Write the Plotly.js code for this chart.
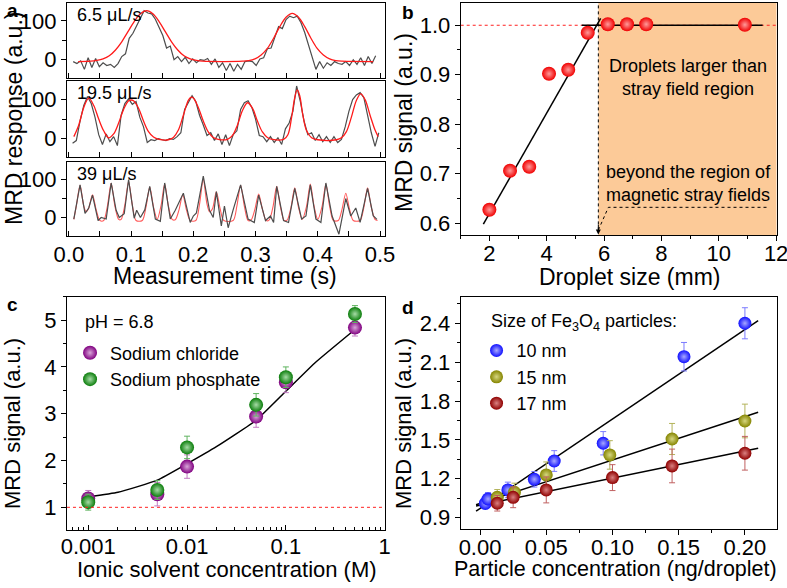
<!DOCTYPE html>
<html>
<head>
<meta charset="utf-8">
<script src="https://cdn.plot.ly/plotly-3.0.1.min.js"></script>
<style>
  body { margin: 0; background: #fff; }
  #chart { width: 787px; height: 588px; }
</style>
</head>
<body>
<div id="chart"></div>
<script>
// ---- panel a: MRD response traces (time in s) ----
var a1Gray = [-5, -10, -3, -25, 5, -20, 3, -18, -8, -15, -12, -20, -10, 8, 15, 55, 68, 88, 108, 126,
  120, 118, 104, 85, 62, 30, 35, 0, 8, -5, 6, -10, 2, -8, 0, -2, 3, -12, 2, -20,
  -8, -28, -10, -30, -12, -25, -5, -3, -5, -15, 2, 5, 28, 30, 60, 85, 80, 103, 112, 108,
  112, 95, 70, 38, 5, -25, -5, -22, -8, -15, -5, -10, -12, -5, -15, 0, -12, 5, -15, 8,
  -10, 10];
var a1FitX = [0.015, 0.035, 0.045, 0.055, 0.065, 0.075, 0.085, 0.095, 0.105, 0.115, 0.125, 0.135, 0.145,
  0.155, 0.165, 0.175, 0.185, 0.195, 0.205, 0.215, 0.25, 0.279, 0.289, 0.299, 0.309, 0.319, 0.329,
  0.339, 0.349, 0.359, 0.369, 0.379, 0.389, 0.399, 0.409, 0.419, 0.429, 0.439, 0.489];
var a1FitY = [-5, -4, -2, 2, 10, 25, 46, 72, 98, 118, 126, 118, 98,
  72, 46, 25, 10, 2, -2, -4, -5, -4, -2.5, 2, 12, 29, 55,
  85, 109, 119, 109, 85, 55, 29, 12, 2, -2.5, -4, -5];

var a2Gray = [-12, -5, 45, 85, 108, 90, 55, 10, -15, 12, -8, 5, -18, 60, 90, 102, 88, 95, 55, 30,
  -10, -3, -5, 0, -3, -5, 0, -2, 5, 15, 75, 92, 110, 95, 60, 35, 8, 15, -5, 12,
  -15, 10, -18, 10, 20, 75, 92, 97, 80, 50, 8, 5, -8, 5, -10, 2, -15, 25, 40, 70,
  135, 95, 45, 10, 15, -5, 10, -8, 5, -10, 5, -10, -2, 30, 70, 100, 112, 118, 105, 60,
  15, -20, 15];
var a2FitX = [0.008, 0.016, 0.024, 0.032, 0.040, 0.048, 0.056, 0.064, 0.072, 0.080, 0.088, 0.096, 0.100,
  0.104, 0.112, 0.120, 0.128, 0.136, 0.145, 0.160, 0.168, 0.176, 0.184, 0.192, 0.196, 0.200,
  0.208, 0.216, 0.224, 0.232, 0.240, 0.255, 0.263, 0.271, 0.279, 0.287, 0.295, 0.303, 0.311,
  0.319, 0.327, 0.345, 0.352, 0.358, 0.363, 0.367, 0.371, 0.376, 0.382, 0.390, 0.400, 0.430,
  0.438, 0.446, 0.454, 0.462, 0.469, 0.476, 0.484, 0.492, 0.497];
var a2FitY = [5, 35, 80, 104, 85, 50, 20, 2, 12, 40, 75, 97, 99,
  97, 78, 45, 18, 4, -2, -3, 3, 22, 60, 98, 106, 104,
  80, 45, 17, 3, -2, -2, 8, 35, 72, 92, 78, 45, 17,
  3, -2, -2, 10, 55, 105, 125, 110, 60, 20, 2, -3, -3,
  2, 18, 55, 98, 115, 100, 60, 22, 5];

var a3GrayX = [0.008, 0.018, 0.026, 0.032, 0.038, 0.047, 0.052, 0.060, 0.068, 0.076, 0.081, 0.089, 0.096,
  0.105, 0.109, 0.115, 0.122, 0.130, 0.139, 0.147, 0.154, 0.163, 0.171, 0.177, 0.184, 0.195,
  0.200, 0.205, 0.216, 0.226, 0.232, 0.237, 0.245, 0.250, 0.256, 0.264, 0.276, 0.288, 0.298,
  0.305, 0.316, 0.324, 0.329, 0.334, 0.345, 0.353, 0.363, 0.374, 0.381, 0.388, 0.397, 0.405,
  0.413, 0.423, 0.434, 0.445, 0.453, 0.461, 0.468, 0.480, 0.489, 0.495];
var a3GrayY = [-4, 86, 11, 25, 59, -8, 0, -4, 91, 19, 0, 10, 100,
  -2, 19, 0, 20, 82, -4, -10, 91, -4, 19, 40, 64, -13,
  4, 12, 109, 19, 0, 68, -22, 30, -27, 20, 86, -4, -13,
  59, -8, 4, -13, 82, -8, -13, 77, -4, 4, 86, -4, -13,
  91, 4, -44, 50, 4, 25, -13, 77, 5, -5];
var a3FitX = [0.008, 0.012, 0.018, 0.024, 0.028, 0.032, 0.038, 0.044, 0.050, 0.056,
  0.062, 0.068, 0.074, 0.080, 0.084, 0.090, 0.096, 0.102, 0.108, 0.118,
  0.124, 0.130, 0.136, 0.142, 0.148, 0.154, 0.160, 0.166, 0.171, 0.177,
  0.183, 0.189, 0.195, 0.204, 0.210, 0.216, 0.222, 0.226, 0.231, 0.237,
  0.243, 0.249, 0.264, 0.270, 0.276, 0.282, 0.288, 0.293, 0.299, 0.305,
  0.311, 0.317, 0.322, 0.328, 0.334, 0.340, 0.346, 0.351, 0.357, 0.363,
  0.369, 0.375, 0.382, 0.388, 0.394, 0.400, 0.407, 0.413, 0.419, 0.425,
  0.433, 0.439, 0.445, 0.451, 0.457, 0.468, 0.474, 0.480, 0.486, 0.492, 0.496];
var a3FitY = [-5, 30, 85, 30, 15, 25, 60, 20, -8, -8,
  30, 90, 30, -5, -5, 33, 95, 33, -8, -8,
  28, 80, 28, -5, 30, 88, 30, -5, -6, 20,
  60, 20, -8, -8, 35, 100, 35, 15, 24, 68,
  24, -8, -8, 30, 85, 30, -8, -6, 22, 62,
  22, -8, -6, 28, 82, 28, -8, -6, 27, 78,
  27, -5, 30, 88, 30, -5, 30, 88, 30, -8,
  -8, 22, 64, 22, -8, -8, 27, 78, 27, -5, -8];

// ---- panel b: droplet size ----
var bSize = [2.0, 2.72, 3.39, 4.08, 4.75, 5.43, 6.13, 6.8, 7.47, 10.91];
var bSignal = [0.627, 0.706, 0.714, 0.902, 0.910, 0.985, 1.002, 1.002, 1.002, 1.001];
var bFitX = [1.79, 5.88];
var bFitY = [0.598, 1.014];
var bFlatX = [5.22, 11.53];
var bFlatY = [1.0, 1.0];

// ---- panel c: ionic solvent ----
var conc = [0.001, 0.005, 0.01, 0.05, 0.1, 0.5];
var nacl = [1.19, 1.28, 1.87, 2.94, 3.67, 4.84];
var naclErr = [0.17, 0.25, 0.25, 0.23, 0.22, 0.18];
var naph = [1.11, 1.37, 2.28, 3.19, 3.78, 5.13];
var naphErr = [0.17, 0.2, 0.24, 0.24, 0.22, 0.18];
var cFitX = [0.001, 0.002, 0.005, 0.01, 0.02, 0.05, 0.1, 0.2, 0.5];
var cFitY = [1.22, 1.32, 1.58, 1.93, 2.3, 2.86, 3.48, 4.1, 4.8];
var cTicks = [0.001, 0.01, 0.1, 1];
var cTickText = ['0.001', '0.01', '0.1', '1'];
var cMinor = [0.0007, 0.0008, 0.0009, 0.002, 0.003, 0.004, 0.005, 0.006, 0.007, 0.008, 0.009,
  0.02, 0.03, 0.04, 0.05, 0.06, 0.07, 0.08, 0.09, 0.2, 0.3, 0.4, 0.5, 0.6, 0.7, 0.8, 0.9];

// ---- panel d: particle concentration ----
var d10x = [0.004, 0.006, 0.021, 0.041, 0.056, 0.093, 0.154, 0.2];
var d10y = [1.01, 1.044, 1.114, 1.196, 1.337, 1.474, 2.142, 2.4];
var d10e = [0.04, 0.05, 0.06, 0.06, 0.08, 0.09, 0.11, 0.12];
var d15x = [0.013, 0.026, 0.05, 0.098, 0.145, 0.2];
var d15y = [1.057, 1.096, 1.23, 1.384, 1.507, 1.646];
var d15e = [0.06, 0.07, 0.1, 0.11, 0.12, 0.13];
var d17x = [0.013, 0.025, 0.05, 0.1, 0.145, 0.2];
var d17y = [1.011, 1.057, 1.114, 1.209, 1.299, 1.397];
var d17e = [0.06, 0.08, 0.1, 0.1, 0.13, 0.13];
var dFitX = [-0.003, 0.21];
var d10Fit = [0.95, 2.42];
var d15Fit = [1.0, 1.713];
var d17Fit = [0.99, 1.435];

var FONT = 'Arial, "Liberation Sans", sans-serif';

function ball(color, center, size) {
  return {color: color, size: size, line: {width: 0},
          gradient: {type: 'radial', color: center}};
}

var gray = {color: '#4d4d4d', width: 1.2};
var data = [
  {y: a1Gray, x0: 0.007, dx: 0.006, xaxis: 'x', yaxis: 'y', mode: 'lines', line: gray, showlegend: false},
  {x: a1FitX, y: a1FitY, xaxis: 'x', yaxis: 'y', mode: 'lines', line: {color: '#ff1a1a', width: 1.3, shape: 'spline'}, showlegend: false},
  {y: a2Gray, x0: 0.006, dx: 0.006, xaxis: 'x2', yaxis: 'y2', mode: 'lines', line: gray, showlegend: false},
  {x: a2FitX, y: a2FitY, xaxis: 'x2', yaxis: 'y2', mode: 'lines', line: {color: '#ff1a1a', width: 1.3, shape: 'spline'}, showlegend: false},
  {x: a3FitX, y: a3FitY, xaxis: 'x3', yaxis: 'y3', mode: 'lines', line: {color: '#ff5a5a', width: 1.1, shape: 'spline', smoothing: 0.8}, showlegend: false},
  {x: a3GrayX, y: a3GrayY, xaxis: 'x3', yaxis: 'y3', mode: 'lines', line: gray, showlegend: false},

  {x: bFitX, y: bFitY, xaxis: 'x4', yaxis: 'y4', mode: 'lines', line: {color: '#000', width: 1.5}, showlegend: false},
  {x: bFlatX, y: bFlatY, xaxis: 'x4', yaxis: 'y4', mode: 'lines', line: {color: '#000', width: 1.5}, showlegend: false},
  {x: bSize, y: bSignal, xaxis: 'x4', yaxis: 'y4', mode: 'markers', marker: ball('#f00000', '#ff9a9a', 14), showlegend: false},

  {x: cFitX, y: cFitY, xaxis: 'x5', yaxis: 'y5', mode: 'lines', line: {color: '#000', width: 1.5, shape: 'spline', smoothing: 0.4}, showlegend: false},
  {x: conc, y: nacl, name: 'Sodium chloride', xaxis: 'x5', yaxis: 'y5', mode: 'markers', legend: 'legend',
   error_y: {type: 'data', array: naclErr, color: '#c27ac2', thickness: 1, width: 3},
   marker: ball('#800080', '#d9a6d9', 14)},
  {x: conc, y: naph, name: 'Sodium phosphate', xaxis: 'x5', yaxis: 'y5', mode: 'markers', legend: 'legend',
   error_y: {type: 'data', array: naphErr, color: '#5fb35f', thickness: 1, width: 3},
   marker: ball('#0a7d0a', '#a6dba6', 14)},

  {x: dFitX, y: d10Fit, xaxis: 'x6', yaxis: 'y6', mode: 'lines', line: {color: '#000', width: 1.5}, showlegend: false},
  {x: dFitX, y: d15Fit, xaxis: 'x6', yaxis: 'y6', mode: 'lines', line: {color: '#000', width: 1.5}, showlegend: false},
  {x: dFitX, y: d17Fit, xaxis: 'x6', yaxis: 'y6', mode: 'lines', line: {color: '#000', width: 1.5}, showlegend: false},
  {x: d10x, y: d10y, name: '10 nm', xaxis: 'x6', yaxis: 'y6', mode: 'markers', legend: 'legend2',
   error_y: {type: 'data', array: d10e, color: '#7b7bff', thickness: 1, width: 3},
   marker: ball('#1010ff', '#a8a8ff', 13)},
  {x: d15x, y: d15y, name: '15 nm', xaxis: 'x6', yaxis: 'y6', mode: 'markers', legend: 'legend2',
   error_y: {type: 'data', array: d15e, color: '#b3b35a', thickness: 1, width: 3},
   marker: ball('#858500', '#d6d680', 13)},
  {x: d17x, y: d17y, name: '17 nm', xaxis: 'x6', yaxis: 'y6', mode: 'markers', legend: 'legend2',
   error_y: {type: 'data', array: d17e, color: '#c06060', thickness: 1, width: 3},
   marker: ball('#8f0000', '#d98080', 13)}
];

function axis(extra) {
  var base = {showline: true, linecolor: '#000', linewidth: 1, mirror: true,
              showgrid: false, zeroline: false, ticks: 'outside', ticklen: 5,
              tickcolor: '#000', tickfont: {family: FONT, size: 22, color: '#000'},
              minor: {ticks: 'outside', ticklen: 3, tickcolor: '#000', showgrid: false}};
  for (var k in extra) base[k] = extra[k];
  return base;
}

var aX = [-0.003, 0.508];
var aY = [-48, 147];
var dxA = [0.0851, 0.4892];
var dxB = [0.5854, 0.9869];

// paper-pixel helper for text placed outside the plot areas
function note(text, px, py, size, extra) {
  var a = {text: text, x: px / 787, y: 1 - py / 588, xref: 'paper', yref: 'paper',
           xanchor: 'center', yanchor: 'middle', showarrow: false, font: {size: size}};
  for (var k in extra) a[k] = extra[k];
  return a;
}

var layout = {
  width: 787, height: 588,
  margin: {l: 0, r: 0, t: 0, b: 0},
  paper_bgcolor: '#fff', plot_bgcolor: 'rgba(0,0,0,0)',
  font: {family: FONT, color: '#000'},
  xaxis: axis({domain: dxA, anchor: 'y', range: aX, dtick: 0.1, tick0: 0, ticks: 'inside', showticklabels: false,
               minor: {ticks: 'inside', ticklen: 5, dtick: 0.05, tickcolor: '#000'}}),
  yaxis: axis({domain: [0.8668, 0.9957], anchor: 'x', range: aY, dtick: 100, tick0: 0,
               minor: {ticks: 'outside', ticklen: 4, dtick: 50, tickcolor: '#000'}}),
  xaxis2: axis({domain: dxA, anchor: 'y2', range: aX, dtick: 0.1, tick0: 0, ticks: 'inside', showticklabels: false,
               minor: {ticks: 'inside', ticklen: 5, dtick: 0.05, tickcolor: '#000'}}),
  yaxis2: axis({domain: [0.7325, 0.8617], anchor: 'x2', range: aY, dtick: 100, tick0: 0,
               minor: {ticks: 'outside', ticklen: 4, dtick: 50, tickcolor: '#000'}}),
  xaxis3: axis({domain: dxA, anchor: 'y3', range: aX, dtick: 0.1, tick0: 0, ticks: 'inside', tickformat: '.1f',
               ticklabelstandoff: -1,
               minor: {ticks: 'inside', ticklen: 5, dtick: 0.05, tickcolor: '#000'}}),
  yaxis3: axis({domain: [0.5991, 0.7250], anchor: 'x3', range: aY, dtick: 100, tick0: 0,
               minor: {ticks: 'outside', ticklen: 4, dtick: 50, tickcolor: '#000'}}),

  xaxis4: axis({domain: dxB, anchor: 'y4', range: [1, 12.02], dtick: 2, tick0: 0, ticklabeloverflow: 'allow',
               ticklabelstandoff: -6,
               minor: {ticks: 'outside', ticklen: 3, dtick: 1, tickcolor: '#000'}}),
  yaxis4: axis({domain: [0.6003, 0.9949], anchor: 'x4', range: [0.576, 1.045], dtick: 0.1, tick0: 0, tickformat: '.1f',
               minor: {ticks: 'outside', ticklen: 3, dtick: 0.05, tickcolor: '#000'}}),

  xaxis5: axis({domain: dxA, anchor: 'y5', type: 'log', range: [-3.215, 0.003], tickmode: 'array',
               tickvals: cTicks, ticktext: cTickText, ticks: 'inside', ticklabelstandoff: -3,
               minor: {ticks: 'inside', ticklen: 3, tickmode: 'array', tickvals: cMinor, tickcolor: '#000'}}),
  yaxis5: axis({domain: [0.0986, 0.4954], anchor: 'x5', range: [0.515, 5.5], dtick: 1, tick0: 0,
               minor: {ticks: 'outside', ticklen: 3, dtick: 0.5, tickcolor: '#000'}}),

  xaxis6: axis({domain: dxB, anchor: 'y6', range: [-0.0146, 0.224], dtick: 0.05, tick0: 0, tickformat: '.2f',
               ticklabelstandoff: -7,
               minor: {ticks: 'outside', ticklen: 3, dtick: 0.025, tickcolor: '#000'}}),
  yaxis6: axis({domain: [0.0998, 0.4954], anchor: 'x6', range: [0.81, 2.605], dtick: 0.3, tick0: 0.9, tickformat: '.1f',
               minor: {ticks: 'outside', ticklen: 3, dtick: 0.15, tickcolor: '#000'}}),

  legend: {x: 0.089, y: 0.431, xanchor: 'left', yanchor: 'top', bgcolor: 'rgba(0,0,0,0)',
           font: {family: FONT, size: 18, color: '#000'}, tracegroupgap: 0},
  legend2: {x: 0.6055, y: 0.435, xanchor: 'left', yanchor: 'top', bgcolor: 'rgba(0,0,0,0)',
           font: {family: FONT, size: 18, color: '#000'}, tracegroupgap: 0},

  shapes: [
    // panel b: region beyond the stray field
    {type: 'rect', xref: 'x4', yref: 'y4 domain', x0: 5.8, x1: 12.02, y0: 0, y1: 1,
     fillcolor: '#fcca98', line: {width: 0}, layer: 'below'},
    {type: 'line', xref: 'x4 domain', yref: 'y4', x0: 0, x1: 1, y0: 1.0, y1: 1.0,
     line: {color: '#ff2020', width: 1, dash: 'dot'}, layer: 'below'},
    {type: 'line', xref: 'x4', yref: 'y4 domain', x0: 5.8, x1: 5.8, y0: 0.02, y1: 1,
     line: {color: '#000', width: 1, dash: 'dot'}},
    {type: 'path', xref: 'x4', yref: 'y4', path: 'M 5.8 0.586 L 6.15 0.632 L 11.72 0.632',
     line: {color: '#000', width: 1, dash: 'dot'}},
    // panel c: low concentration region and reference line
    {type: 'rect', xref: 'x5', yref: 'y5 domain', x0: -3.215, x1: -1.232, y0: 0, y1: 1,
     fillcolor: '#ffff80', line: {width: 0}, layer: 'below'},
    {type: 'line', xref: 'x5 domain', yref: 'y5', x0: 0, x1: 1, y0: 1, y1: 1,
     line: {color: '#ff2020', width: 1, dash: 'dot'}}
  ],

  annotations: [
    note('<b>a</b>', 12, 11, 19),
    note('<b>b</b>', 408, 12, 19),
    note('<b>c</b>', 12, 304, 19),
    note('<b>d</b>', 408, 307, 19),

    note('MRD response (a.u.)', 14, 119, 23, {textangle: -90}),
    note('Measurement time (s)', 225, 276, 23),
    note('MRD signal (a.u.)', 404, 122, 23, {textangle: -90}),
    note('Droplet size (mm)', 629, 277, 23),
    note('MRD signal (a.u.)', 12, 424, 22, {textangle: -90}),
    note('Ionic solvent concentration (M)', 227, 569, 22),
    note('MRD signal (a.u.)', 403, 424, 22, {textangle: -90}),
    note('Particle concentration (ng/droplet)', 615, 569, 21.5),

    {text: '6.5 \u03bcL/s', x: 0.025, y: 1.0, xref: 'x domain', yref: 'y domain', xanchor: 'left', yanchor: 'top', showarrow: false, font: {size: 18}},
    {text: '19.5 \u03bcL/s', x: 0.025, y: 1.0, xref: 'x2 domain', yref: 'y2 domain', xanchor: 'left', yanchor: 'top', showarrow: false, font: {size: 18}},
    {text: '39 \u03bcL/s', x: 0.025, y: 1.0, xref: 'x3 domain', yref: 'y3 domain', xanchor: 'left', yanchor: 'top', showarrow: false, font: {size: 18}},

    {text: 'Droplets larger than<br>stray field region', x: 8.93, y: 0.8935, xref: 'x4', yref: 'y4',
     xanchor: 'center', yanchor: 'middle', showarrow: false, font: {size: 18}},
    {text: 'beyond the region of<br>magnetic stray fields', x: 8.93, y: 0.681, xref: 'x4', yref: 'y4',
     xanchor: 'center', yanchor: 'middle', showarrow: false, font: {size: 18}},
    {text: '', x: 5.8, y: 0.577, ax: 5.8, ay: 0.6, xref: 'x4', yref: 'y4', axref: 'x4', ayref: 'y4',
     showarrow: true, arrowhead: 2, arrowsize: 1, arrowwidth: 1, arrowcolor: '#000'},

    note('pH = 6.8', 83, 322, 18, {xanchor: 'left'}),
    note('Size of Fe<sub>3</sub>O<sub>4</sub> particles:', 489, 322, 18, {xanchor: 'left'})
  ]
};

Plotly.newPlot('chart', data, layout, {staticPlot: true});
</script>
</body>
</html>
